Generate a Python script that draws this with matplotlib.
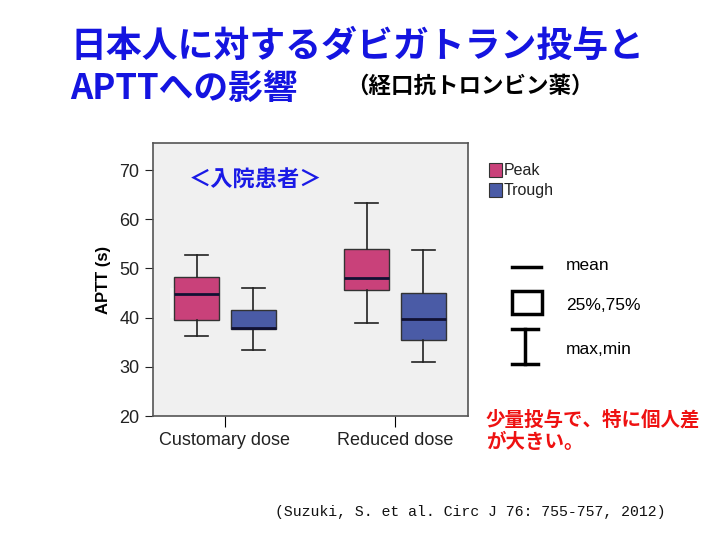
import matplotlib
matplotlib.use("Agg")
import matplotlib.pyplot as plt
from matplotlib.patches import Rectangle
from matplotlib.lines import Line2D

plt.rcParams['font.family'] = ['Liberation Sans', 'Noto Sans CJK JP', 'DejaVu Sans']

categories = ["Customary dose", "Reduced dose"]
series = ["Peak", "Trough"]
# per category: [Customary, Reduced]
peak_min = [36.3, 39.0]
peak_q1 = [39.5, 45.6]
peak_med = [44.9, 48.0]
peak_q3 = [48.2, 54.0]
peak_max = [52.7, 63.3]
trough_min = [33.4, 30.9]
trough_q1 = [37.6, 35.4]
trough_med = [37.9, 39.8]
trough_q3 = [41.5, 45.1]
trough_max = [46.0, 53.8]
yticks = [20, 30, 40, 50, 60, 70]

colors = {"Peak": "#C9417A", "Trough": "#4A5BA6"}
data = {
    "Peak": (peak_min, peak_q1, peak_med, peak_q3, peak_max),
    "Trough": (trough_min, trough_q1, trough_med, trough_q3, trough_max),
}

fig = plt.figure(figsize=(7.2, 5.4), dpi=100)
ax = fig.add_axes([0.212, 0.2296, 0.4375, 0.5056])
ax.set_facecolor("#F0F0F0")

offsets = {"Peak": -0.166, "Trough": 0.168}
for s in series:
    mn, q1, md, q3, mx = data[s]
    stats = []
    for i in range(len(categories)):
        stats.append(dict(whislo=mn[i], q1=q1[i], med=md[i], q3=q3[i], whishi=mx[i], fliers=[]))
    pos = [i + offsets[s] for i in range(len(categories))]
    ax.bxp(stats, positions=pos, widths=0.268, patch_artist=True, showfliers=False,
           boxprops=dict(facecolor=colors[s], edgecolor="#333333", linewidth=1.0),
           medianprops=dict(color="#111133", linewidth=2.0),
           whiskerprops=dict(color="#222222", linewidth=1.2),
           capprops=dict(color="#222222", linewidth=1.2),
           capwidths=0.134, manage_ticks=False)

ax.set_xlim(-0.425, 1.428)
ax.set_ylim(20, 75.5)
ax.set_yticks(yticks)
ax.set_xticks(range(len(categories)))
ax.set_xticklabels(categories, fontsize=13, color="#222222")
ax.tick_params(axis='y', labelsize=13, colors="#222222", length=6)
ax.tick_params(axis='x', length=8)
for sp in ax.spines.values():
    sp.set_color("#555555")
    sp.set_linewidth(1.2)
ax.set_ylabel("APTT (s)", fontsize=12, fontweight='bold', labelpad=6)

# faint patch in the plot area
ax.add_patch(Rectangle((0.055, 0.36), 0.13, 0.11, transform=ax.transAxes,
                       facecolor="#F6F6F6", edgecolor="none", zorder=0.5))

ax.text(0.115, 0.865, "＜入院患者＞", transform=ax.transAxes, fontsize=16,
        fontweight='bold', color="#1A1AE6", family=['Noto Sans CJK JP'], va='center')

# Legend Peak/Trough
for j, s in enumerate(series):
    y = 1 - (170 + 20 * j) / 540
    fig.add_artist(Rectangle((489 / 720, y - 7 / 540), 13 / 720, 14 / 540,
                             facecolor=colors[s], edgecolor="#333333", linewidth=0.8))
    fig.text(504 / 720, y, s, fontsize=11.5, va='center', color="#222222")

# Key
fig.add_artist(Line2D([512 / 720, 541 / 720], [1 - 267 / 540] * 2, color='black', lw=2.5))
fig.add_artist(Rectangle((512 / 720, 1 - 314 / 540), 30 / 720, 23 / 540,
                         facecolor='none', edgecolor='black', linewidth=2.5))
fig.add_artist(Line2D([512 / 720, 538 / 720], [1 - 329 / 540] * 2, color='black', lw=2.5))
fig.add_artist(Line2D([512 / 720, 538 / 720], [1 - 364 / 540] * 2, color='black', lw=2.5))
fig.add_artist(Line2D([525 / 720, 525 / 720], [1 - 329 / 540, 1 - 364 / 540], color='black', lw=2.5))
fig.text(566 / 720, 1 - 265 / 540, "mean", fontsize=12.5, va='center')
fig.text(566 / 720, 1 - 306 / 540, "25%,75%", fontsize=12.5, va='center')
fig.text(566 / 720, 1 - 350 / 540, "max,min", fontsize=12.5, va='center')

# Red note
cjk = ['Noto Sans CJK JP']
fig.text(486 / 720, 1 - 420 / 540, "少量投与で、特に個人差", fontsize=14, fontweight='bold',
         color="#EE1111", family=cjk, va='center')
fig.text(486 / 720, 1 - 442 / 540, "が大きい。", fontsize=14, fontweight='bold',
         color="#EE1111", family=cjk, va='center')

# Title
fig.text(70 / 720, 1 - 46 / 540, "日本人に対するダビガトラン投与と", fontsize=25.8, fontweight='bold',
         color="#1414E0", family=cjk, va='center')
fig.text(70 / 720, 1 - 88 / 540, "APTTへの影響", fontsize=25, fontweight='bold',
         color="#1414E0", family=cjk, va='center')
fig.text(346 / 720, 1 - 86 / 540, "（経口抗トロンビン薬）", fontsize=16.2, fontweight='bold',
         color="black", family=cjk, va='center')

# Citation
fig.text(275 / 720, 1 - 512 / 540, "(Suzuki, S. et al. Circ J 76: 755-757, 2012)",
         fontsize=10.7, family=['Liberation Mono'], va='center', color="#111111")

fig.savefig("out.png", dpi=100)
